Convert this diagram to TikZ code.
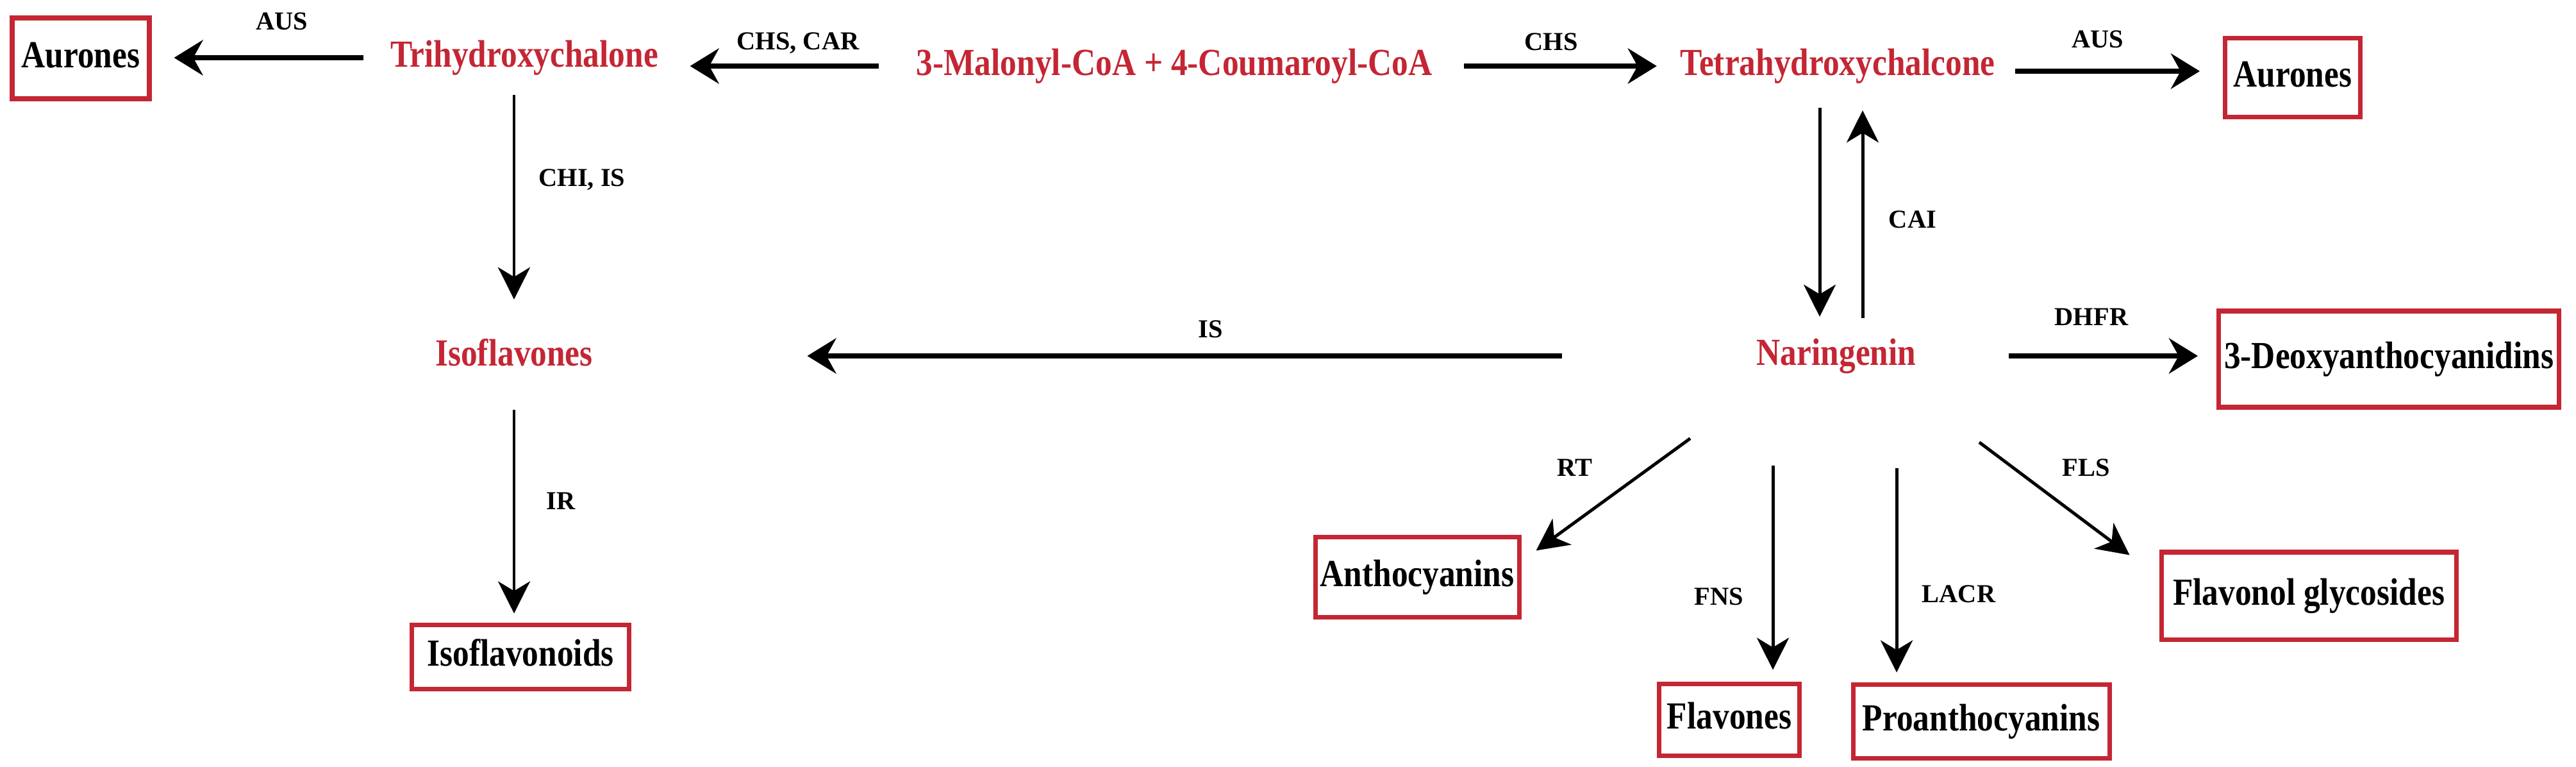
\documentclass[tikz,border=0pt]{standalone}
\usepackage{fontspec}
\setmainfont{Liberation Serif}
\newfontfamily\chemfont{Liberation Serif}[FakeStretch=0.86]
\usetikzlibrary{arrows.meta}
\definecolor{chemred}{RGB}{196,38,52}
\tikzset{
  chem/.style={text=chemred, font=\chemfont\bfseries\fontsize{17}{20}\selectfont,
    inner sep=0pt, text height=0.42cm, text depth=0.13cm},
  prod/.style={draw=chemred, line width=2pt, font=\chemfont\bfseries\fontsize{17}{20}\selectfont,
    inner sep=0pt, text height=0.42cm, text depth=0.13cm},
  enz/.style={font=\bfseries\fontsize{11.5}{13}\selectfont, inner sep=0pt},
  thickarr/.style={line width=2.2pt, -{Stealth[length=0.45cm, width=0.55cm, inset=0.15cm]}},
  thinarr/.style={line width=1.4pt, -{Stealth[length=0.5cm, width=0.5cm, inset=0.15cm]}}
}
\begin{document}
\begin{tikzpicture}[scale=1]
    \useasboundingbox (0,0) rectangle (40.19,-11.95);

    % Compuestos intermedios
    \node[chem] (tri) at (8.18,-0.90) {Trihydroxychalone};
    \node[chem] (mal) at (18.32,-1.03) {3-Malonyl-CoA + 4-Coumaroyl-CoA};
    \node[chem] (tet) at (28.67,-1.03) {Tetrahydroxychalcone};
    \node[chem] (nar) at (28.65,-5.55) {Naringenin};
    \node[chem] (isov) at (8.02,-5.56) {Isoflavones};

    % Productos finales
    \node[prod, minimum width=2.14cm, minimum height=1.26cm] (aurL) at (1.26,-0.91) {Aurones};
    \node[prod, minimum width=2.11cm, minimum height=1.23cm] (aurR) at (35.77,-1.21) {Aurones};
    \node[prod, minimum width=5.31cm, minimum height=1.50cm] (deoxy) at (37.27,-5.60) {3-Deoxyanthocyanidins};
    \node[prod, minimum width=3.39cm, minimum height=1.00cm] (isod) at (8.12,-10.24) {Isoflavonoids};
    \node[prod, minimum width=3.18cm, minimum height=1.25cm] (antho) at (22.11,-9.00) {Anthocyanins};
    \node[prod, minimum width=2.19cm, minimum height=1.12cm] (flvn) at (26.98,-11.22) {Flavones};
    \node[prod, minimum width=4.00cm, minimum height=1.15cm] (proa) at (30.91,-11.25) {Proanthocyanins};
    \node[prod, minimum width=4.60cm, minimum height=1.36cm] (flvl) at (36.02,-9.29) {Flavonol glycosides};

    % Flechas horizontales
    \draw[thickarr, shorten <=0.41cm, shorten >=0.35cm] (tri.west) -- (tri.west -| aurL.east);
    \draw[thickarr, shorten <=0.58cm, shorten >=0.49cm] (mal.west) -- (mal.west -| tri.east);
    \draw[thickarr, shorten <=0.49cm, shorten >=0.36cm] (mal.east) -- (mal.east -| tet.west);
    \draw[thickarr, shorten <=0.31cm, shorten >=0.36cm] ([yshift=-0.08cm]tet.east) -- ([yshift=-0.08cm]tet.east -| aurR.west);
    \draw[thickarr, shorten <=3.03cm, shorten >=3.34cm] (nar.west) -- (nar.west -| isov.east);
    \draw[thickarr, shorten <=1.44cm, shorten >=0.29cm] (nar.east) -- (nar.east -| deoxy.west);

    % Flechas verticales
    \draw[thinarr, shorten <=0.30cm, shorten >=0.61cm] (tri.south -| isov.north) -- (isov.north);
    \draw[thinarr, shorten <=0.55cm, shorten >=0.14cm] (isov.south) -- (isov.south |- isod.north);
    \draw[thinarr, shorten <=0.37cm, shorten >=0.33cm] ([xshift=-0.28cm]tet.south) -- ([xshift=-0.28cm]tet.south |- nar.north);
    \draw[thinarr, shorten <=0.31cm, shorten >=0.41cm] ([xshift=0.41cm]nar.north) -- ([xshift=0.41cm]nar.north |- tet.south);

    % Ramas desde Naringenin
    \draw[thinarr] ([shift={(-2.28,-1.005)}]nar.south) -- ([shift={(0.23,-0.245)}]antho.north east);
    \draw[thinarr, shorten >=0.18cm] ([shift={(-0.99,-1.425)}]nar.south) -- ([xshift=0.68cm]flvn.north);
    \draw[thinarr, shorten >=0.155cm] ([shift={(0.94,-1.465)}]nar.south) -- ([xshift=-1.32cm]proa.north);
    \draw[thinarr] ([shift={(2.23,-1.065)}]nar.south) -- ([shift={(-0.46,-0.08)}]flvl.north west);

    % Enzimas
    \node[enz] (eAUSl) at (4.40,-0.33) {AUS};
    \node[enz] (eCHSCAR) at (12.45,-0.67) {CHS, CAR};
    \node[enz] (eCHS) at (24.20,-0.65) {CHS};
    \node[enz] (eAUSr) at (32.73,-0.61) {AUS};
    \node[enz] (eCHIIS) at (9.08,-2.80) {CHI, IS};
    \node[enz] (eIR) at (8.75,-7.81) {IR};
    \node[enz] (eCAI) at (29.84,-3.42) {CAI};
    \node[enz] (eIS) at (18.89,-5.13) {IS};
    \node[enz] (eDHFR) at (32.63,-4.94) {DHFR};
    \node[enz] (eRT) at (24.57,-7.29) {RT};
    \node[enz] (eFNS) at (26.82,-9.30) {FNS};
    \node[enz] (eLACR) at (30.56,-9.26) {LACR};
    \node[enz] (eFLS) at (32.55,-7.29) {FLS};
\end{tikzpicture}
\end{document}
